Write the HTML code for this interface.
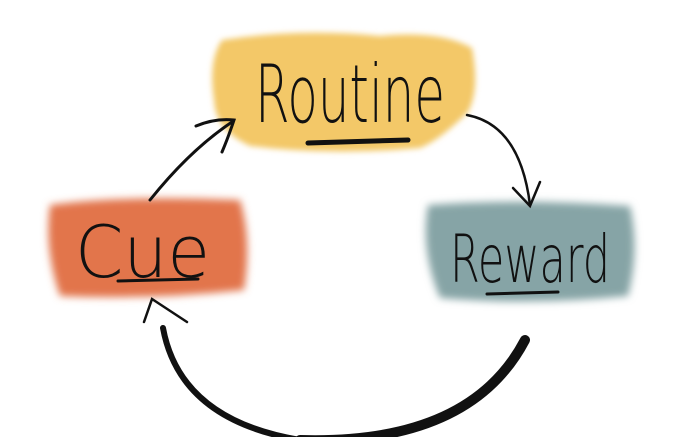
<!DOCTYPE html>
<html><head><style>
body{margin:0;background:#fff;width:694px;height:437px;overflow:hidden}
svg{display:block}
text{font-family:"DejaVu Sans","Liberation Sans",sans-serif;font-weight:200}
</style></head><body>
<svg width="694" height="437" viewBox="0 0 694 437">
<defs>
<filter id="b" x="-10%" y="-10%" width="120%" height="120%"><feGaussianBlur stdDeviation="3"/></filter>
<filter id="c" x="-10%" y="-10%" width="120%" height="120%"><feGaussianBlur stdDeviation="4"/></filter>
</defs>
<path d="M222,40 Q300,28 380,36 Q440,30 472,48 Q480,90 468,112 Q440,140 420,148 Q330,156 250,146 Q215,130 214,100 Q208,60 222,40Z" fill="#f3c867" filter="url(#b)"/>
<path d="M50,205 Q120,195 240,200 Q252,240 244,290 Q150,300 60,296 Q44,250 50,205Z" fill="#e2754c" filter="url(#c)"/>
<path d="M428,205 Q520,198 630,206 Q640,250 628,296 Q530,306 440,298 Q420,250 428,205Z" fill="#86a4a6" filter="url(#c)"/>
<text x="255" y="122" font-size="80" fill="#111" textLength="190" lengthAdjust="spacingAndGlyphs">Routine</text>
<text x="75" y="277" font-size="72" fill="#111" textLength="135" lengthAdjust="spacingAndGlyphs">Cue</text>
<text x="450" y="282" font-size="66" fill="#111" font-weight="100" textLength="160" lengthAdjust="spacingAndGlyphs">Reward</text>
<path d="M308,143 L408,140" stroke="#111" stroke-width="5" stroke-linecap="round"/>
<path d="M118,281 L198,279" stroke="#111" stroke-width="3" stroke-linecap="round"/>
<path d="M487,294 L558,292" stroke="#111" stroke-width="3" stroke-linecap="round"/>
<g fill="none" stroke="#111" stroke-linecap="round">
<path d="M150,200 Q190,150 232,122" stroke-width="3"/>
<path d="M196,126 Q215,118 234,120 Q228,138 222,152" stroke-width="3"/>
<path d="M467,115 Q520,125 530,205" stroke-width="2.5"/>
<path d="M513,188 L530,206 L540,182" stroke-width="2.5"/>
<path d="M525,340 Q470,445 300,440" stroke-width="10"/>
<path d="M300,440 Q180,420 163,328" stroke-width="6"/>
<path d="M144,322 L152,299 L187,322" stroke-width="2.5"/>
</g>
</svg>
</body></html>
